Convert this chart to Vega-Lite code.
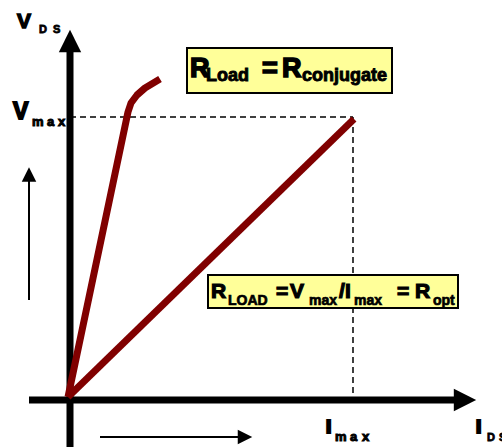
{
  "$schema": "https://vega.github.io/schema/vega-lite/v6.json",
  "width": 502,
  "height": 447,
  "padding": 0,
  "autosize": "none",
  "config": {"view": {"stroke": null}},
  "datasets": {
    "axes": [
      {"x": 70, "y": 447, "x2": 70, "y2": 50},
      {"x": 29, "y": 400, "x2": 455, "y2": 400}
    ],
    "thin": [
      {"x": 29, "y": 300, "x2": 29, "y2": 180},
      {"x": 100, "y": 437, "x2": 240, "y2": 437}
    ],
    "dash": [
      {"x": 70, "y": 117, "x2": 353, "y2": 117},
      {"x": 353, "y": 117, "x2": 353, "y2": 400}
    ],
    "curves": [
      {"s": "a", "o": 1, "x": 68, "y": 397},
      {"s": "a", "o": 2, "x": 128, "y": 112},
      {"s": "a", "o": 3, "x": 131, "y": 103},
      {"s": "a", "o": 4, "x": 137, "y": 95},
      {"s": "a", "o": 5, "x": 145, "y": 88},
      {"s": "a", "o": 6, "x": 160, "y": 79},
      {"s": "b", "o": 1, "x": 68, "y": 397},
      {"s": "b", "o": 2, "x": 354, "y": 119}
    ],
    "heads": [
      {"dir": "up", "k": "big", "x": 70, "y": 41},
      {"dir": "right", "k": "big", "x": 465, "y": 400},
      {"dir": "up", "k": "small", "x": 29, "y": 174.5},
      {"dir": "right", "k": "small", "x": 245, "y": 437}
    ],
    "boxes": [
      {"x": 187, "x2": 392, "y": 48, "y2": 93},
      {"x": 208, "x2": 458, "y": 275, "y2": 308}
    ],
    "texts": [
      {"t": "R", "x": 190, "y": 77, "role": "b1big"},
      {"t": "=", "x": 262, "y": 77, "role": "b1big"},
      {"t": "R", "x": 282, "y": 77, "role": "b1big"},
      {"t": "Load", "x": 206, "y": 81, "role": "b1sub"},
      {"t": "conjugate", "x": 302, "y": 81, "role": "b1sub"},
      {"t": "R", "x": 211, "y": 298, "role": "b2big"},
      {"t": "=", "x": 276, "y": 298, "role": "b2big"},
      {"t": "V", "x": 290, "y": 298, "role": "b2big"},
      {"t": "/", "x": 339, "y": 298, "role": "b2big"},
      {"t": "I", "x": 345, "y": 298, "role": "b2big"},
      {"t": "=", "x": 397, "y": 298, "role": "b2big"},
      {"t": "R", "x": 415, "y": 298, "role": "b2big"},
      {"t": "LOAD", "x": 228, "y": 305, "role": "b2sub"},
      {"t": "max", "x": 309, "y": 305, "role": "b2sub"},
      {"t": "max", "x": 354, "y": 305, "role": "b2sub"},
      {"t": "opt", "x": 433, "y": 305, "role": "b2sub"},
      {"t": "V", "x": 17, "y": 28, "role": "axV"},
      {"t": "V", "x": 13, "y": 119, "role": "axV2"},
      {"t": "I", "x": 326, "y": 433, "role": "axI"},
      {"t": "I", "x": 476, "y": 433, "role": "axI"},
      {"t": "m", "x": 32, "y": 126, "role": "axsub"},
      {"t": "a", "x": 47, "y": 126, "role": "axsub"},
      {"t": "x", "x": 58, "y": 126, "role": "axsub"},
      {"t": "m", "x": 335, "y": 441, "role": "axsub"},
      {"t": "a", "x": 350, "y": 441, "role": "axsub"},
      {"t": "x", "x": 362, "y": 441, "role": "axsub"},
      {"t": "D", "x": 39, "y": 33, "role": "axds"},
      {"t": "S", "x": 53, "y": 33, "role": "axds"},
      {"t": "D", "x": 487, "y": 441, "role": "axds"},
      {"t": "S", "x": 499, "y": 441, "role": "axds"}
    ]
  },
  "encoding": {
    "x": {"field": "x", "type": "quantitative", "scale": {"domain": [0, 502], "nice": false, "zero": false}, "axis": null},
    "y": {"field": "y", "type": "quantitative", "scale": {"domain": [0, 447], "nice": false, "zero": false, "reverse": true}, "axis": null}
  },
  "layer": [
    {
      "data": {"name": "dash"},
      "mark": {"type": "rule", "color": "black", "strokeWidth": 1.5, "strokeDash": [6, 4]},
      "encoding": {"x2": {"field": "x2"}, "y2": {"field": "y2"}}
    },
    {
      "data": {"name": "axes"},
      "mark": {"type": "rule", "color": "black", "strokeWidth": 7},
      "encoding": {"x2": {"field": "x2"}, "y2": {"field": "y2"}}
    },
    {
      "data": {"name": "thin"},
      "mark": {"type": "rule", "color": "black", "strokeWidth": 2},
      "encoding": {"x2": {"field": "x2"}, "y2": {"field": "y2"}}
    },
    {
      "data": {"name": "curves"},
      "mark": {"type": "line", "color": "#800000", "strokeWidth": 7, "strokeCap": "butt", "strokeJoin": "round"},
      "encoding": {"detail": {"field": "s"}, "order": {"field": "o", "type": "quantitative"}}
    },
    {
      "data": {"name": "heads"},
      "mark": {"type": "point", "filled": true, "color": "black", "opacity": 1, "strokeWidth": 0},
      "encoding": {
        "shape": {"field": "dir", "type": "nominal", "legend": null, "scale": {"domain": ["up", "right"], "range": ["M-1,1L1,1L0,-1Z", "M-1,-1L1,0L-1,1Z"]}},
        "size": {"field": "k", "type": "nominal", "legend": null, "scale": {"domain": ["big", "small"], "range": [500, 210]}}
      }
    },
    {
      "data": {"name": "boxes"},
      "mark": {"type": "rect", "fill": "#ffff99", "stroke": "black", "strokeWidth": 2},
      "encoding": {"x2": {"field": "x2"}, "y2": {"field": "y2"}}
    },
    {
      "data": {"name": "texts"},
      "transform": [{"filter": "datum.role === 'b1big'"}],
      "mark": {"type": "text", "align": "left", "baseline": "alphabetic", "font": "Liberation Sans", "fontWeight": "bold", "fontSize": 27, "fill": "black", "stroke": "black", "strokeWidth": 1.6},
      "encoding": {"text": {"field": "t"}}
    },
    {
      "data": {"name": "texts"},
      "transform": [{"filter": "datum.role === 'b1sub'"}],
      "mark": {"type": "text", "align": "left", "baseline": "alphabetic", "font": "Liberation Sans", "fontWeight": "bold", "fontSize": 18, "fill": "black", "stroke": "black", "strokeWidth": 0.9},
      "encoding": {"text": {"field": "t"}}
    },
    {
      "data": {"name": "texts"},
      "transform": [{"filter": "datum.role === 'b2big'"}],
      "mark": {"type": "text", "align": "left", "baseline": "alphabetic", "font": "Liberation Sans", "fontWeight": "bold", "fontSize": 21, "fill": "black", "stroke": "black", "strokeWidth": 1.2},
      "encoding": {"text": {"field": "t"}}
    },
    {
      "data": {"name": "texts"},
      "transform": [{"filter": "datum.role === 'b2sub'"}],
      "mark": {"type": "text", "align": "left", "baseline": "alphabetic", "font": "Liberation Sans", "fontWeight": "bold", "fontSize": 14, "fill": "black", "stroke": "black", "strokeWidth": 0.7},
      "encoding": {"text": {"field": "t"}}
    },
    {
      "data": {"name": "texts"},
      "transform": [{"filter": "datum.role === 'axV'"}],
      "mark": {"type": "text", "align": "left", "baseline": "alphabetic", "font": "Liberation Sans", "fontWeight": "bold", "fontSize": 21, "fill": "black", "stroke": "black", "strokeWidth": 1.4},
      "encoding": {"text": {"field": "t"}}
    },
    {
      "data": {"name": "texts"},
      "transform": [{"filter": "datum.role === 'axV2'"}],
      "mark": {"type": "text", "align": "left", "baseline": "alphabetic", "font": "Liberation Sans", "fontWeight": "bold", "fontSize": 23, "fill": "black", "stroke": "black", "strokeWidth": 1.8},
      "encoding": {"text": {"field": "t"}}
    },
    {
      "data": {"name": "texts"},
      "transform": [{"filter": "datum.role === 'axI'"}],
      "mark": {"type": "text", "align": "left", "baseline": "alphabetic", "font": "Liberation Sans", "fontWeight": "bold", "fontSize": 19, "fill": "black", "stroke": "black", "strokeWidth": 2.2},
      "encoding": {"text": {"field": "t"}}
    },
    {
      "data": {"name": "texts"},
      "transform": [{"filter": "datum.role === 'axsub'"}],
      "mark": {"type": "text", "align": "left", "baseline": "alphabetic", "font": "Liberation Sans", "fontWeight": "bold", "fontSize": 13, "fill": "black", "stroke": "black", "strokeWidth": 1},
      "encoding": {"text": {"field": "t"}}
    },
    {
      "data": {"name": "texts"},
      "transform": [{"filter": "datum.role === 'axds'"}],
      "mark": {"type": "text", "align": "left", "baseline": "alphabetic", "font": "Liberation Sans", "fontWeight": "bold", "fontSize": 11, "fill": "black", "stroke": "black", "strokeWidth": 0.8},
      "encoding": {"text": {"field": "t"}}
    }
  ]
}
